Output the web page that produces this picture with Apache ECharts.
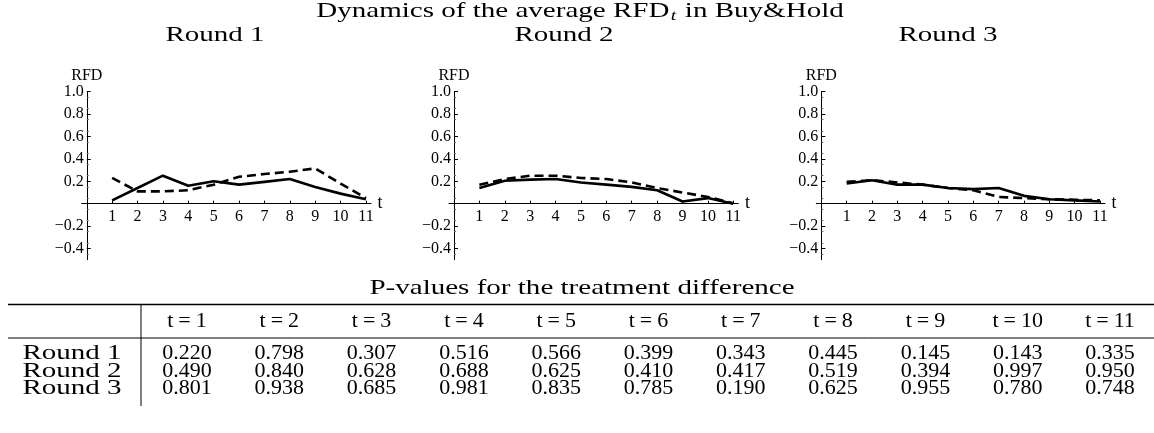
<!DOCTYPE html>
<html>
<head>
<meta charset="utf-8">
<script src="https://cdn.jsdelivr.net/npm/echarts@6/dist/echarts.min.js"></script>
<style>
html,body{margin:0;padding:0;background:#fff;}
#chart{width:1154px;height:433px;}
</style>
</head>
<body>
<div id="chart"></div>
<script>
// ---- data ----
const tValues = [1, 2, 3, 4, 5, 6, 7, 8, 9, 10, 11];
const round1Solid  = [0.03, 0.14, 0.25, 0.16, 0.20, 0.17, 0.195, 0.22, 0.15, 0.09, 0.04];
const round1Dashed = [0.23, 0.11, 0.11, 0.12, 0.17, 0.24, 0.265, 0.285, 0.315, 0.18, 0.05];
const round2Solid  = [0.14, 0.205, 0.215, 0.22, 0.19, 0.17, 0.15, 0.12, 0.02, 0.05, 0.0];
const round2Dashed = [0.17, 0.22, 0.25, 0.25, 0.23, 0.22, 0.19, 0.14, 0.10, 0.06, 0.005];
const round3Solid  = [0.18, 0.21, 0.17, 0.17, 0.14, 0.13, 0.14, 0.07, 0.04, 0.03, 0.02];
const round3Dashed = [0.195, 0.21, 0.19, 0.17, 0.14, 0.12, 0.06, 0.05, 0.04, 0.035, 0.03];
const yTickValues = [-0.4, -0.2, 0.2, 0.4, 0.6, 0.8, 1.0];
const panelTitles = ['Round 1', 'Round 2', 'Round 3'];
const chartTitle = 'Dynamics of the average RFD';
const chartTitleSub = 't';
const chartTitleEnd = ' in Buy&Hold';
const tableTitle = 'P-values for the treatment difference';
const tableHeaders = ['t=1','t=2','t=3','t=4','t=5','t=6','t=7','t=8','t=9','t=10','t=11'];
const rowLabels = ['Round 1', 'Round 2', 'Round 3'];
const pRound1 = [0.220, 0.798, 0.307, 0.516, 0.566, 0.399, 0.343, 0.445, 0.145, 0.143, 0.335];
const pRound2 = [0.490, 0.840, 0.628, 0.688, 0.625, 0.410, 0.417, 0.519, 0.394, 0.997, 0.950];
const pRound3 = [0.801, 0.938, 0.685, 0.981, 0.835, 0.785, 0.190, 0.625, 0.955, 0.780, 0.748];

// ---- layout ----
const FONT = 'Liberation Serif';
const WIDE = 1.32; // horizontal stretch of the reference's letter text
const panelLefts = [81.7, 448.9, 816.3];
const panelWidths = [289.3, 289.5, 288.7];
const panelTitleX = [215, 564, 948];
const gridTop = 91.7, gridHeight = 168;
const yMin = -0.5, yMax = 1.0, xMin = -0.2, xMax = 11.2;

const solidSets = [round1Solid, round2Solid, round3Solid];
const dashedSets = [round1Dashed, round2Dashed, round3Dashed];

const grids = [], xAxes = [], yAxes = [], series = [];
for (let p = 0; p < 3; p++) {
  grids.push({left: panelLefts[p], width: panelWidths[p], top: gridTop, height: gridHeight});
  const xOffset = -gridHeight * (0 - yMin) / (yMax - yMin);   // move x axis up to y=0
  const yOffset = -panelWidths[p] * (0 - xMin) / (xMax - xMin); // move y axis right to t=0
  xAxes.push({
    type: 'value', gridIndex: p, min: xMin, max: xMax, position: 'bottom', offset: xOffset,
    name: 't', nameLocation: 'end', nameGap: 6,
    nameTextStyle: {fontFamily: FONT, fontSize: 18, color: '#000', verticalAlign: 'middle'},
    axisLine: {onZero: false, lineStyle: {color: '#000', width: 1}},
    axisTick: {show: true, inside: true, length: 3, customValues: tValues, lineStyle: {color: '#000'}},
    axisLabel: {customValues: tValues, fontFamily: FONT, fontSize: 16, color: '#000', margin: 5,
      formatter: v => String(Math.round(v))},
    splitLine: {show: false}
  });
  yAxes.push({
    type: 'value', gridIndex: p, min: yMin, max: yMax, interval: 0.1, position: 'left', offset: yOffset,
    name: 'RFD', nameLocation: 'end', nameGap: 4,
    nameTextStyle: {fontFamily: FONT, fontSize: 16, color: '#000', align: 'center', padding: [0,0,-3,0]},
    axisLine: {onZero: false, lineStyle: {color: '#000', width: 1}},
    axisTick: {show: true, inside: true, length: 4, customValues: yTickValues, lineStyle: {color: '#000'}},
    minorTick: {show: true, splitNumber: 2, length: 2, lineStyle: {color: '#666'}},
    axisLabel: {customValues: yTickValues, fontFamily: FONT, fontSize: 16, color: '#000', margin: 3,
      formatter: v => (v < 0 ? '\u2212' : '') + Math.abs(v).toFixed(1)},
    splitLine: {show: false}
  });
  series.push({
    type: 'line', xAxisIndex: p, yAxisIndex: p, symbol: 'none', silent: true,
    lineStyle: {color: '#000', width: 2.6, type: 'solid'},
    data: tValues.map((t, i) => [t, solidSets[p][i]])
  });
  series.push({
    type: 'line', xAxisIndex: p, yAxisIndex: p, symbol: 'none', silent: true,
    lineStyle: {color: '#000', width: 2.6, type: [9, 5]},
    data: tValues.map((t, i) => [t, dashedSets[p][i]])
  });
}

// ---- graphic texts & table ----
const graphic = [];
function label(x, y, text, size, stretch) {
  return {type: 'text', x: x, y: y, scaleX: stretch || 1,
    style: {text: text, fontFamily: FONT, fontSize: size, fill: '#000', align: 'center', verticalAlign: 'middle'}};
}
graphic.push({
  type: 'text', x: 580, y: 11, scaleX: WIDE,
  style: {
    text: '{a|' + chartTitle + '}{s|' + chartTitleSub + '}{a|' + chartTitleEnd + '}',
    align: 'center', verticalAlign: 'middle',
    rich: {
      a: {fontFamily: FONT, fontSize: 22, fill: '#000', lineHeight: 24},
      s: {fontFamily: FONT, fontSize: 15, fontStyle: 'italic', fill: '#000', lineHeight: 24, padding: [10,1,0,1]}
    }
  }
});
panelTitles.forEach((t, i) => graphic.push(label(panelTitleX[i], 35, t, 22, WIDE)));
graphic.push(label(582, 288, tableTitle, 22, WIDE));
graphic.push({type: 'line', shape: {x1: 8, y1: 304.5, x2: 1154, y2: 304.5}, style: {stroke: '#000', lineWidth: 1.5}});
graphic.push({type: 'line', shape: {x1: 8, y1: 338, x2: 1154, y2: 338}, style: {stroke: '#000', lineWidth: 1}});
graphic.push({type: 'line', shape: {x1: 141, y1: 304, x2: 141, y2: 406}, style: {stroke: '#000', lineWidth: 1}});
const colX = tableHeaders.map((h, i) => 187 + i * 92.3);
tableHeaders.forEach((h, i) => {
  const parts = h.split('=');
  graphic.push({type: 'text', x: colX[i], y: 321.7,
    style: {
      text: '{v|' + parts[0] + '}{e|=}{v|' + parts[1] + '}',
      align: 'center', verticalAlign: 'middle',
      rich: {
        v: {fontFamily: FONT, fontSize: 22, fill: '#000'},
        e: {fontFamily: FONT, fontSize: 22, fill: '#000', padding: [0, 5, 0, 5]}
      }
    }});
});
const rowY = [353.5, 371, 388.7];
const pRows = [pRound1, pRound2, pRound3];
rowLabels.forEach((lab, r) => {
  graphic.push(label(72, rowY[r], lab, 22, WIDE));
  pRows[r].forEach((v, i) => graphic.push(label(colX[i], rowY[r], v.toFixed(3), 22, 1)));
});

const chart = echarts.init(document.getElementById('chart'), null, {renderer: 'canvas'});
chart.setOption({
  animation: false,
  backgroundColor: '#fff',
  grid: grids, xAxis: xAxes, yAxis: yAxes, series: series,
  graphic: graphic
});
</script>
</body>
</html>
